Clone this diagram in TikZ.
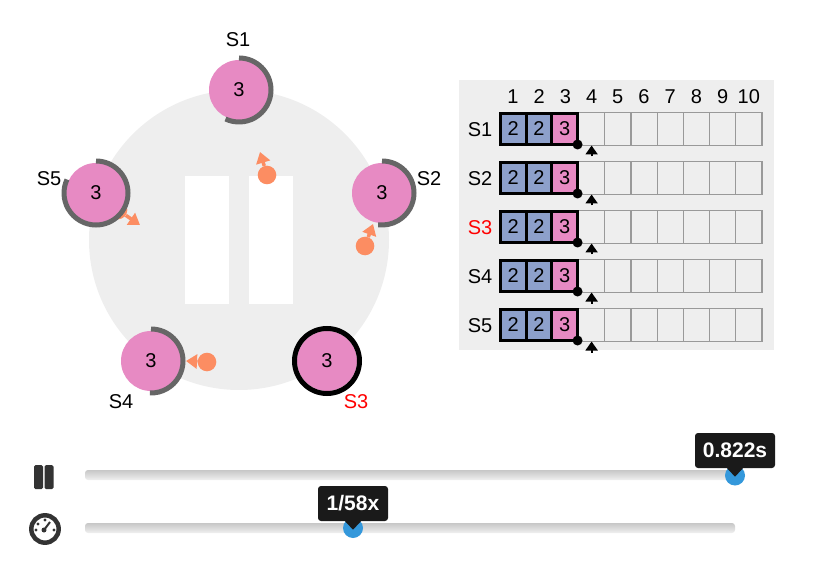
\documentclass[tikz,border=0pt]{standalone}
\usepackage{fontspec}
\setmainfont{Liberation Sans}
\usetikzlibrary{arrows.meta}

\definecolor{ringgray}{HTML}{666666}
\definecolor{panelgray}{HTML}{EEEEEE}
\definecolor{cellgray}{HTML}{999999}
\definecolor{termblue}{HTML}{8DA0CB}
\definecolor{termpink}{HTML}{E78AC3}
\definecolor{msgorange}{HTML}{FC8D62}
\definecolor{handleblue}{HTML}{3498DB}
\definecolor{tipblack}{HTML}{1A1A1A}
\definecolor{icondark}{HTML}{333333}

\tikzset{
	label/.style={font=\fontsize{20}{24}\selectfont,inner sep=0pt},
	server/.style={circle,fill=termpink,minimum size=60pt,inner sep=0pt,font=\fontsize{20}{24}\selectfont},
	timer/.style={draw=ringgray,line width=5pt},
	msg/.style={circle,fill=msgorange,minimum size=18.6pt,inner sep=0pt},
	msgarrow/.style={draw=msgorange,line width=3.5pt,-{Triangle[length=11pt,width=14pt]}},
	logcell/.style={rectangle,inner sep=0pt,outer sep=0pt,font=\fontsize{20}{24}\selectfont},
	emptycell/.style={logcell,draw=cellgray,line width=1.2pt,minimum width=26.2pt,minimum height=33pt},
	fullcell/.style={logcell,draw=black,line width=3pt,minimum width=25.7pt,minimum height=31pt},
	commitdot/.style={circle,fill=black,minimum size=10pt,inner sep=0pt},
	nextmark/.style={draw=black,line width=2pt,-{Triangle[length=9pt,width=12pt]}},
	track/.style={rectangle,rounded corners=3pt,minimum width=650pt,minimum height=10pt,inner sep=0pt,top color=black!22,bottom color=black!6,draw=none},
	handle/.style={circle,fill=handleblue,minimum size=20pt,inner sep=0pt},
	tooltip/.style={rectangle,rounded corners=3pt,fill=tipblack,text=white,minimum height=35pt,inner sep=0pt,font=\fontsize{21}{25}\selectfont\bfseries},
	pausebar/.style={rectangle,rounded corners=1.5pt,fill=icondark,minimum width=9pt,minimum height=24pt,inner sep=0pt},
}

\begin{document}
\begin{tikzpicture}[x=1pt,y=-1pt]
	\useasboundingbox (0,0) rectangle (824,577);
	
	% ring
	\fill[panelgray] (239,240) circle (150);
	\fill[white] (185,176) rectangle (229,304);
	\fill[white] (249,176) rectangle (293,304);
	
	% messages
	\node[msg] (m1) at (267,175) {};
	\coordinate (t1) at (260,152);
	\draw[msgarrow] (m1) -- (t1);
	\node[msg] (m2) at (365,246) {};
	\coordinate (t2) at (373,224);
	\draw[msgarrow] (m2) -- (t2);
	\node[msg] (m4) at (207,362) {};
	\coordinate (t4) at (186,361);
	\draw[msgarrow] (m4) -- (t4);
	\node[msg] (m5) at (118,210) {};
	\coordinate (t5) at (140,225);
	\draw[msgarrow] (m5) -- (t5);
	
	% servers
	\node[server] (s1) at (239,90) {3};
	\node[server] (s2) at (382,193) {3};
	\node[server] (s3) at (327,361) {3};
	\node[server] (s4) at (151,361) {3};
	\node[server] (s5) at (96,193) {3};
	
	\draw[timer] (s1.center) ++(-90:32) arc[start angle=-90,end angle=115,radius=32];
	\draw[timer] (s2.center) ++(-90:32) arc[start angle=-90,end angle=97,radius=32];
	\draw[timer,draw=black] (s3.center) circle (32.5);
	\draw[timer] (s4.center) ++(-90:32) arc[start angle=-90,end angle=92,radius=32];
	\draw[timer] (s5.center) ++(-90:32) arc[start angle=-90,end angle=205,radius=32];
	
	\node[label] (l1) at (238,40) {S1};
	\node[label] (l2) at (429,179) {S2};
	\node[label,text=red] (l3) at (356,402) {S3};
	\node[label] (l4) at (121,402) {S4};
	\node[label] (l5) at (49,179) {S5};
	
	% log table
	\fill[panelgray] (459,80) rectangle (774,350);
	\foreach \i in {1,...,10}
		\node[label] (h\i) at ({578.5+26.2*(\i-3.5)},97) {\i};
	\foreach \r/\y/\col in {1/129/black,2/178/black,3/227/red,4/276/black,5/325/black} {
		\node[label,text=\col] (r\r) at (480,\y+1) {S\r};
		\foreach \i in {4,...,10}
			\node[emptycell] (c\r-\i) at ({578.5+26.2*(\i-3.5)},\y) {};
		\node[fullcell,fill=termblue] (c\r-1) at (513.3,\y) {2};
		\node[fullcell,fill=termblue] (c\r-2) at (539,\y) {2};
		\node[fullcell,fill=termpink] (c\r-3) at (564.7,\y) {3};
		\node[commitdot] (d\r) at (c\r-3.south east) {};
		\draw[nextmark] (c\r-4.south) ++(0,11) -- (c\r-4.south);
	}
	
	% sliders
	\node[track] (tr1) at (410,475) {};
	\node[track] (tr2) at (410,528) {};
	\node[handle] (k1) at (735,475.5) {};
	\node[handle] (k2) at (353,528) {};
	\node[tooltip,minimum width=80pt] (tip1) at (735,450.5) {0.822s};
	\node[tooltip,minimum width=70pt] (tip2) at (353,503.5) {1/58x};
	\fill[tipblack] (tip1.south) ++(-8,0) -- ++(16,0) -- ++(-8,8.5) -- cycle;
	\fill[tipblack] (tip2.south) ++(-8,0) -- ++(16,0) -- ++(-8,8.5) -- cycle;
	
	% pause icon
	\node[pausebar] (p1) at (38.5,477) {};
	\node[pausebar] (p2) at (49,477) {};
	
	% speed icon
	\draw[icondark,line width=4.5pt,fill=white] (45,529) circle (13.7);
	\fill[icondark] (45,520) circle (1.6);
	\fill[icondark] (38,524) circle (1.6);
	\fill[icondark] (36,530) circle (1.6);
	\fill[icondark] (54,530) circle (1.6);
	\fill[icondark] (44,530) circle (2.5);
	\draw[icondark,line width=2pt] (44,530) -- (50,522);
\end{tikzpicture}
\end{document}
